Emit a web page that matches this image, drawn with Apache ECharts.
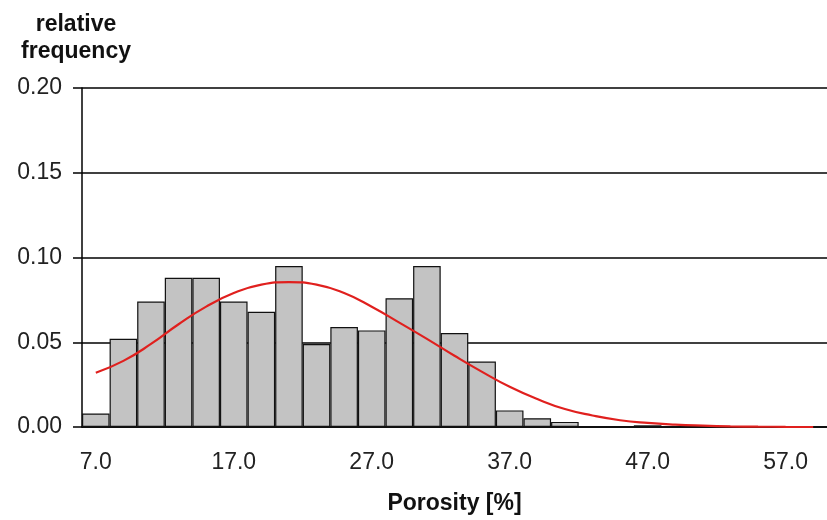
<!DOCTYPE html>
<html><head><meta charset="utf-8">
<script src="https://cdn.jsdelivr.net/npm/echarts@6/dist/echarts.min.js"></script>
<style>html,body{margin:0;padding:0;background:#fff}#c{width:827px;height:520px}</style>
</head><body><div id="c"></div>
<script>
const categories = ['7.0','9.0','11.0','13.0','15.0','17.0','19.0','21.0','23.0','25.0','27.0','29.0','31.0','33.0','35.0','37.0','39.0','41.0','43.0','45.0','47.0','49.0','51.0','53.0','55.0','57.0','59.0'];
const frequency = [0.008,0.052,0.074,0.088,0.088,0.074,0.068,0.095,0.049,0.059,0.057,0.076,0.095,0.0555,0.0386,0.0098,0.0052,0.003,0,0,0.001,0,0,0,0,0,0];
const fitted = [0.032,0.039,0.049,0.0606,0.071,0.079,0.084,0.0855,0.084,0.079,0.071,0.0616,0.052,0.042,0.0325,0.0237,0.0165,0.0106,0.0068,0.004,0.0024,0.0014,0.0008,0.0004,0.0002,0.0001,0];
const yTicks = [0, 0.05, 0.10, 0.15, 0.20];

const chart = echarts.init(document.getElementById('c'));
const font = 'Liberation Sans, Arial, sans-serif';
chart.setOption({
  animation: false,
  backgroundColor: '#fff',
  title: {
    text: 'relative\nfrequency', left: 71, top: 6, textAlign: 'center',
    textStyle: {fontFamily: font, fontWeight: 'bold', fontSize: 23, color: '#111', lineHeight: 27}
  },
  grid: {left: 82, top: 88, width: 755, height: 340},
  xAxis: [{
    type: 'category', data: categories, boundaryGap: true,
    axisLine: {lineStyle: {color: '#000', width: 1.5}},
    axisTick: {interval: 0, length: 7, lineStyle: {color: '#000', width: 1.5}},
    axisLabel: {interval: 4, fontFamily: font, fontSize: 23, color: '#222', margin: 24},
    name: 'Porosity [%]', nameLocation: 'middle', nameGap: 65,
    nameTextStyle: {fontFamily: font, fontWeight: 'bold', fontSize: 23, color: '#111'}
  }, {
    type: 'category', data: categories, position: 'bottom', boundaryGap: true,
    axisLine: {show: false},
    axisTick: {interval: 0, inside: true, length: 7, lineStyle: {color: '#000', width: 1.5}},
    axisLabel: {show: false}
  }],
  yAxis: {
    type: 'value', min: yTicks[0], max: yTicks[yTicks.length - 1], interval: 0.05,
    axisLine: {show: true, lineStyle: {color: '#000', width: 1.5}},
    axisTick: {show: true, length: 9, lineStyle: {color: '#000', width: 1.5}},
    axisLabel: {formatter: v => v.toFixed(2), fontFamily: font, fontSize: 23, color: '#222', margin: 20},
    splitLine: {show: true, lineStyle: {color: '#000', width: 1.5}}
  },
  series: [{
    type: 'bar', data: frequency, barCategoryGap: '0%', z: 2,
    itemStyle: {color: '#c3c3c3', borderColor: '#111', borderWidth: 1.2}
  }, {
    type: 'line', data: fitted, smooth: true, symbol: 'none', z: 5,
    lineStyle: {color: '#e0201e', width: 2.2}
  }]
});
</script></body></html>
